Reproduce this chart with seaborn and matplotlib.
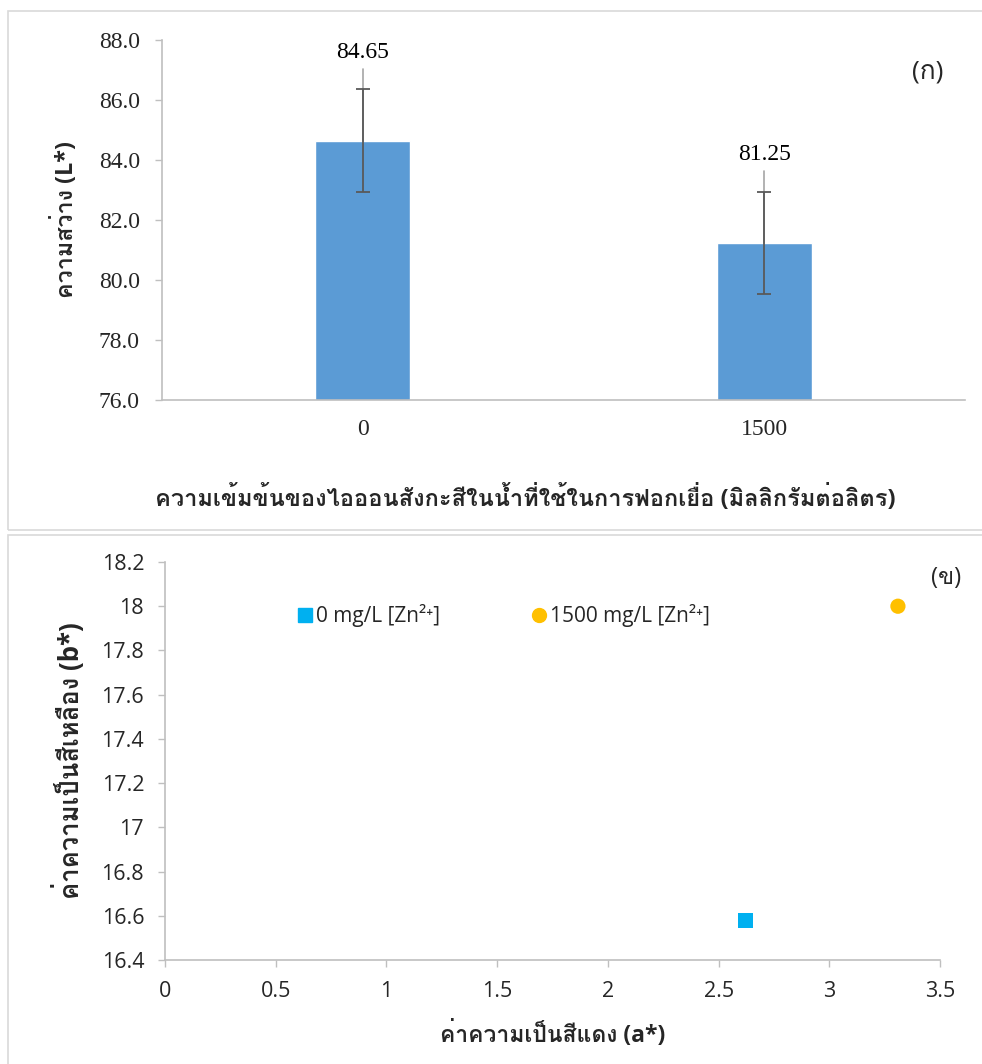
import matplotlib
matplotlib.use("Agg")
import matplotlib.pyplot as plt
import matplotlib.font_manager as fm
from matplotlib.ft2font import FT2Font
from matplotlib.patches import Rectangle
from matplotlib.lines import Line2D
import seaborn as sns
import pandas as pd

# ---- data ----
conc_labels = ["0", "1500"]
lightness = [84.65, 81.25]
lightness_err = [1.70, 1.70]

series_names = ["0 mg/L [Zn²⁺]", "1500 mg/L [Zn²⁺]"]
a_star = [2.62, 3.31]
b_star = [16.58, 18.00]

sns.set_theme(style="white")


def find_thai_font():
    for f in fm.fontManager.ttflist:
        try:
            ft = FT2Font(f.fname)
            if ft.get_char_index(0x0E01):
                return f.name
        except Exception:
            continue
    return None


thai = find_thai_font()
def fam(*names):
    lst = list(names)
    if thai:
        lst.append(thai)
    lst.append("DejaVu Sans")
    return lst

plt.rcParams["font.family"] = fam("Open Sans")

W, H = 982, 1064
fig = plt.figure(figsize=(W / 100, H / 100), dpi=100)


def px_axes(x0, y0, x1, y1):
    return fig.add_axes([x0 / W, 1 - y1 / H, (x1 - x0) / W, (y1 - y0) / H])


# panel frames
for (x0, y0, x1, y1) in [(8, 11, 990, 530), (8, 535, 990, 1070)]:
    fig.patches.append(Rectangle((x0 / W, 1 - y1 / H), (x1 - x0) / W, (y1 - y0) / H,
                                 transform=fig.transFigure, fill=False,
                                 edgecolor="#d9d9d9", linewidth=1.2))

axis_grey = "#bfbfbf"
serif = fam("Liberation Serif")

# ---- top: lightness bar chart ----
ax1 = px_axes(162, 40, 965, 400)
df1 = pd.DataFrame({"conc": conc_labels, "L": lightness})
sns.barplot(data=df1, x="conc", y="L", color="#5b9bd5", width=0.236,
            saturation=1, ax=ax1)
ax1.errorbar(range(len(lightness)), lightness, yerr=lightness_err, fmt="none",
             ecolor="#595959", elinewidth=1.3, capsize=5, capthick=1.3, zorder=4)
ax1.set_ylim(76, 88)
ax1.set_xlim(-0.5, 1.5)
yt1 = [76, 78, 80, 82, 84, 86, 88]
ax1.set_yticks(yt1)
ax1.set_yticklabels([f"{v:.1f}" for v in yt1], family=serif, fontsize=17)
ax1.set_xticks([0, 1])
ax1.set_xticklabels(conc_labels, family=serif, fontsize=17)
ax1.set_xticks([-0.5, 0.5, 1.5], minor=True)
ax1.tick_params(axis="x", which="major", length=0, pad=14)
ax1.tick_params(axis="x", which="minor", length=6, color=axis_grey, width=1)
ax1.tick_params(axis="y", length=5, color=axis_grey, width=1, left=True, pad=11)
for s in ["top", "right"]:
    ax1.spines[s].set_visible(False)
for s in ["left", "bottom"]:
    ax1.spines[s].set_color(axis_grey)
    ax1.spines[s].set_linewidth(1.2)
ax1.set_xlabel("ความเข้มข้นของไอออนสังกะสีในน้ำที่ใช้ในการฟอกเยื่อ (มิลลิกรัมต่อลิตร)",
               fontsize=17, fontweight="bold")
ax1.xaxis.set_label_coords(0.452, -0.235)
ax1.set_ylabel("ความสว่าง (L*)", fontsize=16.8, fontweight="bold", labelpad=14)

label_y = [87.6, 84.17]
for i, (v, ly) in enumerate(zip(lightness, label_y)):
    ax1.plot([i, i], [ly - 0.55, v], color="#a6a6a6", lw=1.2, zorder=3)
    ax1.text(i, ly, f"{v:.2f}", ha="center", va="center",
             family=serif, fontsize=17, color="#000000")
ax1.text(0.954, 0.91, "(ก)", transform=ax1.transAxes, ha="center", va="center",
         fontsize=19)

# ---- bottom: a* vs b* scatter ----
ax2 = px_axes(165, 562, 940, 960)
df2 = pd.DataFrame({"series": series_names, "a": a_star, "b": b_star})
sns.scatterplot(data=df2, x="a", y="b", hue="series", style="series",
                palette=["#00b0f0", "#ffc000"], markers=["s", "o"], s=120,
                edgecolor="none", ax=ax2, legend=False, zorder=3)
ax2.set_xlim(0, 3.5)
ax2.set_ylim(16.4, 18.2)
xt = [0, 0.5, 1, 1.5, 2, 2.5, 3, 3.5]
yt = [16.4, 16.6, 16.8, 17.0, 17.2, 17.4, 17.6, 17.8, 18.0, 18.2]
ax2.set_xticks(xt)
ax2.set_xticklabels([f"{v:g}" for v in xt], fontsize=15.5)
ax2.set_yticks(yt)
ax2.set_yticklabels([f"{v:g}" for v in yt], fontsize=15.5)
ax2.tick_params(axis="both", length=5, color=axis_grey, width=1,
                left=True, bottom=True, pad=10)
for s in ["top", "right"]:
    ax2.spines[s].set_visible(False)
for s in ["left", "bottom"]:
    ax2.spines[s].set_color(axis_grey)
    ax2.spines[s].set_linewidth(1.2)
ax2.set_xlabel("ค่าความเป็นสีแดง (a*)", fontsize=16.5, fontweight="bold", labelpad=14)
ax2.set_ylabel("ค่าความเป็นสีเหลือง (b*)", fontsize=18.5, fontweight="bold", labelpad=12)

handles = [
    Line2D([], [], ls="none", marker="s", color="#00b0f0", markersize=10),
    Line2D([], [], ls="none", marker="o", color="#ffc000", markersize=10),
]
ax2.legend(handles, series_names, ncol=2, frameon=False, loc="center left",
           bbox_to_anchor=(0.169, 0.865), fontsize=15, handletextpad=0.05,
           columnspacing=4.33, handlelength=0.9, borderpad=0, borderaxespad=0)
ax2.text(1.008, 0.96, "(ข)", transform=ax2.transAxes, ha="center", va="center",
         fontsize=17)

fig.savefig("out.png", dpi=100)
